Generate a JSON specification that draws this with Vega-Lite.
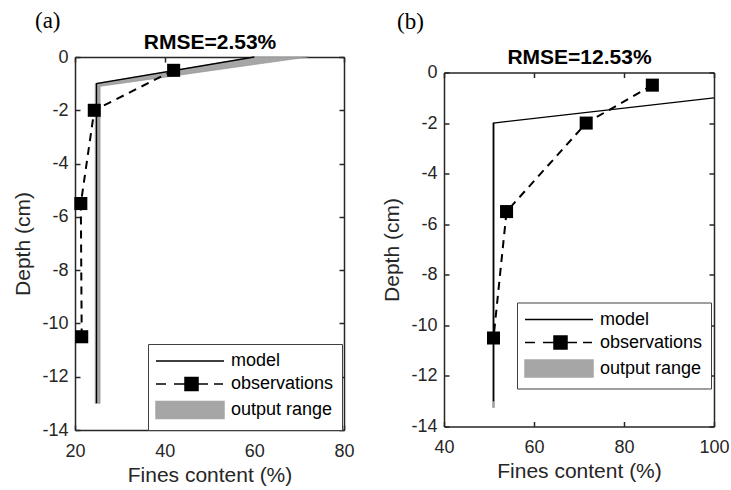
{
  "$schema": "https://vega.github.io/schema/vega-lite/v6.json",
  "padding": {"left": 12, "top": 10, "right": 5, "bottom": 5},
  "background": "white",
  "datasets": {
    "a_model": [
      {"fines": 60, "depth": 0, "series": "model"},
      {"fines": 24.8, "depth": -1, "series": "model"},
      {"fines": 24.8, "depth": -13, "series": "model"}
    ],
    "a_obs": [
      {"fines": 42, "depth": -0.5, "series": "observations"},
      {"fines": 24.3, "depth": -2, "series": "observations"},
      {"fines": 21.3, "depth": -5.5, "series": "observations"},
      {"fines": 21.5, "depth": -10.5, "series": "observations"}
    ],
    "a_band": [
      {"depth": 0, "lo": 60, "hi": 72, "series": "output range"},
      {"depth": -1, "lo": 24.5, "hi": 29.8, "series": "output range"},
      {"depth": -1.1, "lo": 24.5, "hi": 25.6, "series": "output range"},
      {"depth": -13, "lo": 24.5, "hi": 25.6, "series": "output range"}
    ],
    "b_model": [
      {"fines": 100, "depth": -1, "series": "model"},
      {"fines": 51, "depth": -2, "series": "model"},
      {"fines": 51, "depth": -13, "series": "model"}
    ],
    "b_obs": [
      {"fines": 86.3, "depth": -0.5, "series": "observations"},
      {"fines": 71.6, "depth": -2, "series": "observations"},
      {"fines": 53.9, "depth": -5.5, "series": "observations"},
      {"fines": 51, "depth": -10.5, "series": "observations"}
    ],
    "b_band": [
      {"depth": -2, "lo": 50.8, "hi": 51.2, "series": "output range"},
      {"depth": -13.25, "lo": 50.8, "hi": 51.2, "series": "output range"}
    ]
  },
  "hconcat": [
    {
      "width": 269,
      "height": 373,
      "title": {"text": "(a)", "anchor": "start", "frame": "group", "dx": -40, "font": "Liberation Serif", "fontSize": 23, "fontWeight": "normal", "color": "black", "offset": -2},
      "layer": [
        {
          "data": {"name": "a_band"},
          "mark": {"type": "area", "orient": "horizontal", "stroke": "#8c8c8c", "strokeWidth": 0.6},
          "encoding": {
            "y": {"field": "depth", "type": "quantitative", "scale": {"domain": [-14, 0], "nice": false, "zero": false},
              "axis": {"orient": "left", "values": [-14, -12, -10, -8, -6, -4, -2, 0], "labelExpr": "'' + datum.value", "labelPadding": 12, "title": "Depth (cm)", "titlePadding": 8}},
            "x": {"field": "lo", "type": "quantitative", "stack": null, "scale": {"domain": [20, 80], "nice": false, "zero": false},
              "axis": {"orient": "bottom", "values": [20, 40, 60, 80], "labelPadding": 17, "title": ["Fines content (%)", ""], "titleLineHeight": 12, "titlePadding": 4}},
            "x2": {"field": "hi"},
            "color": {"field": "series", "type": "nominal",
              "scale": {"domain": ["model", "observations", "output range"], "range": ["black", "black", "#a6a6a6"]},
              "legend": {"orient": "none", "legendX": 73, "legendY": 287, "title": null, "padding": 8, "strokeColor": "#404040", "fillColor": "white",
                "labelFont": "Liberation Sans", "labelFontSize": 18, "labelColor": "black", "labelOffset": 57, "rowPadding": 4, "symbolSize": 4, "symbolOpacity": 1, "symbolStrokeWidth": 1.5, "labelLimit": 300}}
          }
        },
        {
          "data": {"name": "a_model"},
          "mark": {"type": "line", "strokeWidth": 1.3},
          "encoding": {
            "x": {"field": "fines", "type": "quantitative", "axis": {"orient": "top", "values": [20, 40, 60, 80], "labels": false, "title": "RMSE=2.53%", "titleFontWeight": "bold", "titleColor": "black", "titlePadding": 4}},
            "y": {"field": "depth", "type": "quantitative", "axis": {"orient": "right", "values": [-14, -12, -10, -8, -6, -4, -2, 0], "labels": false, "title": null}},
            "order": {"field": "depth", "sort": "descending"},
            "color": {"field": "series", "type": "nominal", "scale": {"domain": ["model", "observations", "output range"], "range": ["black", "black", "#a6a6a6"]}}
          }
        },
        {
          "data": {"name": "a_obs"},
          "mark": {"type": "line", "strokeWidth": 2, "strokeDash": [8, 6]},
          "encoding": {
            "x": {"field": "fines", "type": "quantitative", "axis": null},
            "y": {"field": "depth", "type": "quantitative", "axis": null},
            "order": {"field": "depth", "sort": "descending"},
            "color": {"field": "series", "type": "nominal", "scale": {"domain": ["model", "observations", "output range"], "range": ["black", "black", "#a6a6a6"]}}
          }
        },
        {
          "data": {"name": "a_obs"},
          "mark": {"type": "point", "shape": "square", "filled": true, "size": 170, "opacity": 1},
          "encoding": {
            "x": {"field": "fines", "type": "quantitative", "axis": null},
            "y": {"field": "depth", "type": "quantitative", "axis": null},
            "color": {"field": "series", "type": "nominal", "scale": {"domain": ["model", "observations", "output range"], "range": ["black", "black", "#a6a6a6"]}}
          }
        },
        {
          "data": {"name": "a_obs"},
          "mark": {"type": "point", "filled": true, "size": 4, "opacity": 0},
          "encoding": {
            "x": {"field": "fines", "type": "quantitative", "axis": null},
            "y": {"field": "depth", "type": "quantitative", "axis": null},
            "color": {"field": "series", "type": "nominal",
              "scale": {"domain": ["model", "observations", "output range"], "range": ["black", "black", "#a6a6a6"]},
              "legend": {"orient": "none", "legendX": 73, "legendY": 287, "title": null, "padding": 8, "strokeColor": "#404040", "fillColor": "white",
                "labelFont": "Liberation Sans", "labelFontSize": 18, "labelColor": "black", "labelOffset": 57, "rowPadding": 4, "symbolSize": 4, "symbolOpacity": 1, "symbolStrokeWidth": 1.5, "labelLimit": 300}},
            "shape": {"field": "series", "type": "nominal",
              "scale": {"domain": ["model", "observations", "output range"], "range": ["M-9,0H59", "M-9,0H1M9,0H43M49,0H58M20,-6.5H33V6.5H20Z", "M-9,-8.5H59V8.5H-9Z"]},
              "legend": {"orient": "none", "legendX": 73, "legendY": 287, "title": null, "padding": 8, "strokeColor": "#404040", "fillColor": "white",
                "labelFont": "Liberation Sans", "labelFontSize": 18, "labelColor": "black", "labelOffset": 57, "rowPadding": 4, "symbolSize": 4, "symbolOpacity": 1, "symbolStrokeWidth": 1.5, "labelLimit": 300}}
          }
        }
      ],
      "resolve": {"axis": {"x": "independent", "y": "independent"}}
    },
    {
      "width": 270,
      "height": 354,
      "title": {"text": "(b)", "anchor": "start", "frame": "group", "dx": -47, "font": "Liberation Serif", "fontSize": 23, "fontWeight": "normal", "color": "black", "offset": 13},
      "layer": [
        {
          "data": {"name": "b_band"},
          "mark": {"type": "area", "orient": "horizontal", "stroke": "#8c8c8c", "strokeWidth": 0.6},
          "encoding": {
            "y": {"field": "depth", "type": "quantitative", "scale": {"domain": [-14, 0], "nice": false, "zero": false},
              "axis": {"orient": "left", "values": [-14, -12, -10, -8, -6, -4, -2, 0], "labelExpr": "'' + datum.value", "labelPadding": 12, "title": "Depth (cm)", "titlePadding": 8}},
            "x": {"field": "lo", "type": "quantitative", "stack": null, "scale": {"domain": [40, 100], "nice": false, "zero": false},
              "axis": {"orient": "bottom", "values": [40, 60, 80, 100], "labelPadding": 17, "title": "Fines content (%)", "titlePadding": 4}},
            "x2": {"field": "hi"},
            "color": {"field": "series", "type": "nominal",
              "scale": {"domain": ["model", "observations", "output range"], "range": ["black", "black", "#a6a6a6"]},
              "legend": {"orient": "none", "legendX": 73, "legendY": 230, "title": null, "padding": 8, "strokeColor": "#404040", "fillColor": "white",
                "labelFont": "Liberation Sans", "labelFontSize": 18, "labelColor": "black", "labelOffset": 57, "rowPadding": 4, "symbolSize": 4, "symbolOpacity": 1, "symbolStrokeWidth": 1.5, "labelLimit": 300}}
          }
        },
        {
          "data": {"name": "b_model"},
          "mark": {"type": "line", "strokeWidth": 1.3},
          "encoding": {
            "x": {"field": "fines", "type": "quantitative", "axis": {"orient": "top", "values": [40, 60, 80, 100], "labels": false, "title": "RMSE=12.53%", "titleFontWeight": "bold", "titleColor": "black", "titlePadding": 4}},
            "y": {"field": "depth", "type": "quantitative", "axis": {"orient": "right", "values": [-14, -12, -10, -8, -6, -4, -2, 0], "labels": false, "title": null}},
            "order": {"field": "depth", "sort": "descending"},
            "color": {"field": "series", "type": "nominal", "scale": {"domain": ["model", "observations", "output range"], "range": ["black", "black", "#a6a6a6"]}}
          }
        },
        {
          "data": {"name": "b_obs"},
          "mark": {"type": "line", "strokeWidth": 2, "strokeDash": [8, 6]},
          "encoding": {
            "x": {"field": "fines", "type": "quantitative", "axis": null},
            "y": {"field": "depth", "type": "quantitative", "axis": null},
            "order": {"field": "depth", "sort": "descending"},
            "color": {"field": "series", "type": "nominal", "scale": {"domain": ["model", "observations", "output range"], "range": ["black", "black", "#a6a6a6"]}}
          }
        },
        {
          "data": {"name": "b_obs"},
          "mark": {"type": "point", "shape": "square", "filled": true, "size": 170, "opacity": 1},
          "encoding": {
            "x": {"field": "fines", "type": "quantitative", "axis": null},
            "y": {"field": "depth", "type": "quantitative", "axis": null},
            "color": {"field": "series", "type": "nominal", "scale": {"domain": ["model", "observations", "output range"], "range": ["black", "black", "#a6a6a6"]}}
          }
        },
        {
          "data": {"name": "b_obs"},
          "mark": {"type": "point", "filled": true, "size": 4, "opacity": 0},
          "encoding": {
            "x": {"field": "fines", "type": "quantitative", "axis": null},
            "y": {"field": "depth", "type": "quantitative", "axis": null},
            "color": {"field": "series", "type": "nominal",
              "scale": {"domain": ["model", "observations", "output range"], "range": ["black", "black", "#a6a6a6"]},
              "legend": {"orient": "none", "legendX": 73, "legendY": 230, "title": null, "padding": 8, "strokeColor": "#404040", "fillColor": "white",
                "labelFont": "Liberation Sans", "labelFontSize": 18, "labelColor": "black", "labelOffset": 57, "rowPadding": 4, "symbolSize": 4, "symbolOpacity": 1, "symbolStrokeWidth": 1.5, "labelLimit": 300}},
            "shape": {"field": "series", "type": "nominal",
              "scale": {"domain": ["model", "observations", "output range"], "range": ["M-9,0H59", "M-9,0H1M9,0H43M49,0H58M20,-6.5H33V6.5H20Z", "M-9,-8.5H59V8.5H-9Z"]},
              "legend": {"orient": "none", "legendX": 73, "legendY": 230, "title": null, "padding": 8, "strokeColor": "#404040", "fillColor": "white",
                "labelFont": "Liberation Sans", "labelFontSize": 18, "labelColor": "black", "labelOffset": 57, "rowPadding": 4, "symbolSize": 4, "symbolOpacity": 1, "symbolStrokeWidth": 1.5, "labelLimit": 300}}
          }
        }
      ],
      "resolve": {"axis": {"x": "independent", "y": "independent"}}
    }
  ],
  "spacing": 26,
  "center": true,
  "resolve": {"scale": {"x": "independent", "y": "independent", "color": "independent", "shape": "independent"}, "legend": {"color": "independent", "shape": "independent"}},
  "config": {
    "view": {"stroke": null},
    "font": "Liberation Sans",
    "axis": {
      "grid": false,
      "domainColor": "#262626", "domainWidth": 1.5,
      "tickColor": "#262626", "tickWidth": 1.5, "tickSize": -5,
      "labelFont": "Liberation Sans", "labelFontSize": 18, "labelColor": "#262626",
      "labelFlush": false, "labelOverlap": false, "labelBound": false,
      "titleFont": "Liberation Sans", "titleFontSize": 21, "titleFontWeight": "normal", "titleColor": "#262626"
    }
  }
}
